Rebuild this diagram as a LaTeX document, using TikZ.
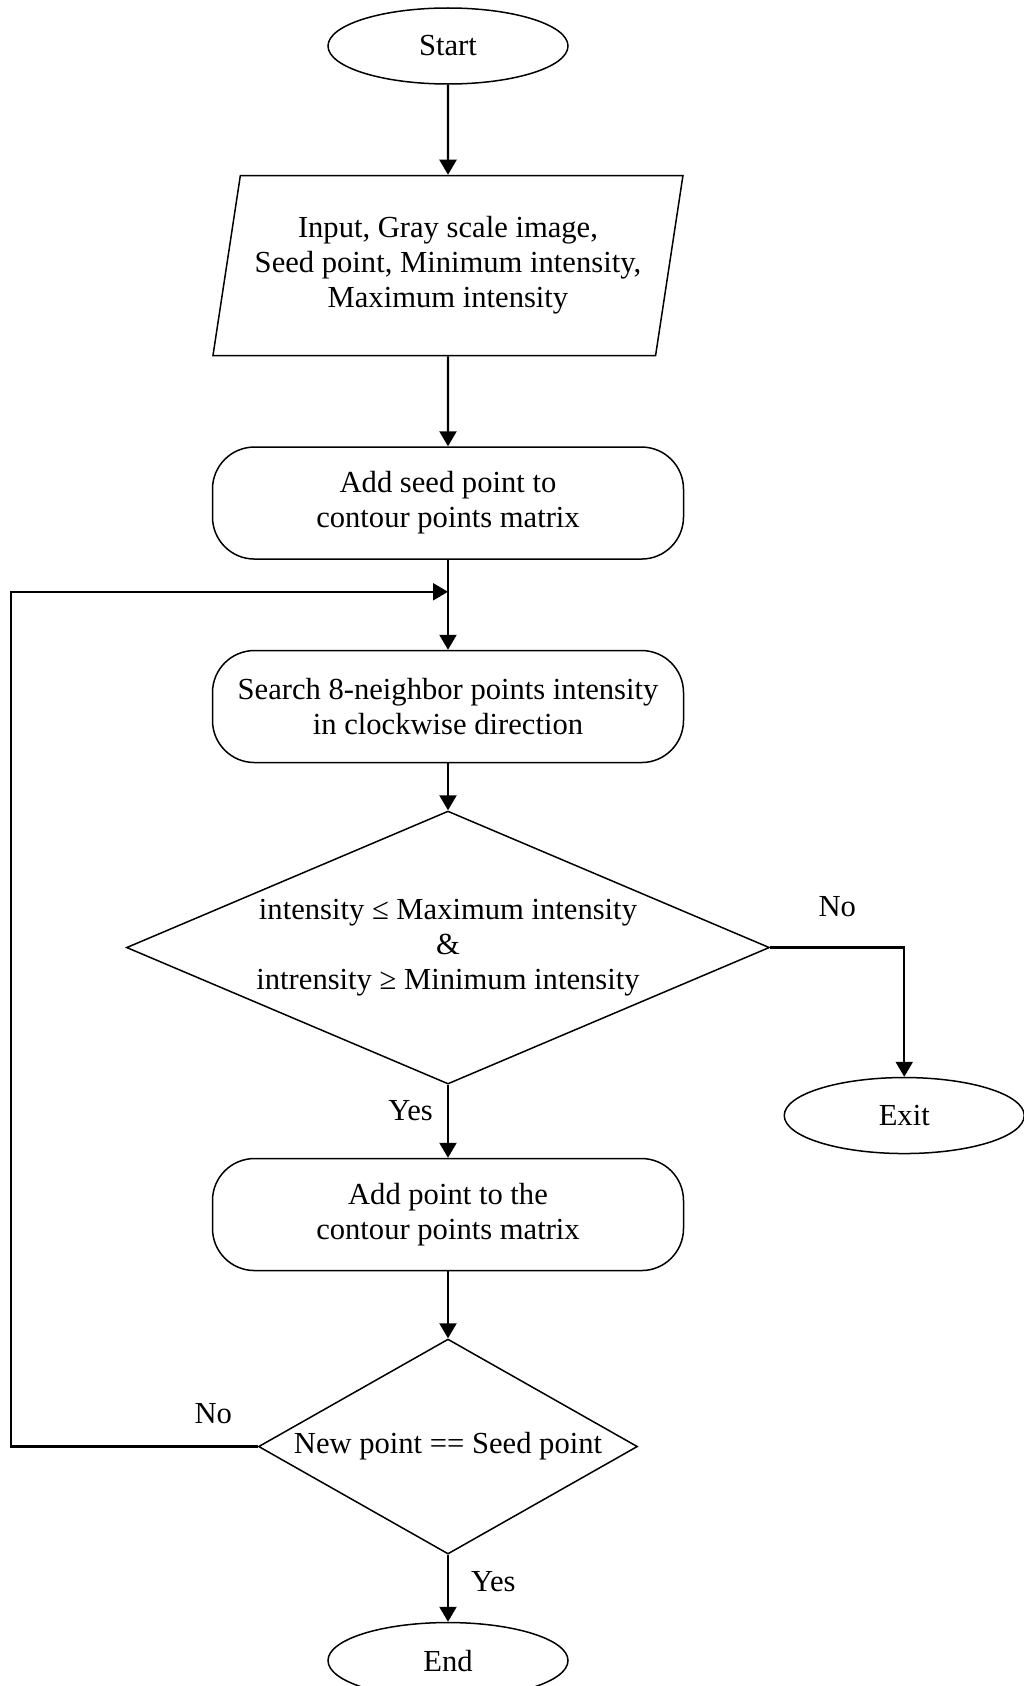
\documentclass[tikz,border=0pt]{standalone}
\usepackage{fontspec}
\setmainfont{Liberation Serif}
\usepackage{tikz}
\usetikzlibrary{arrows.meta,positioning,shapes.geometric}
\newcommand{\flowfont}{\fontsize{15.3}{17.5}\selectfont}
\tikzset{
  terminal/.style={
    ellipse,draw=black,line width=.75pt,inner sep=0pt,
    minimum width=120pt,minimum height=38pt,font=\flowfont
  },
  iobox/.style={
    trapezium,trapezium left angle=75.4,trapezium right angle=104.6,
    trapezium stretches=true,draw=black,line width=.75pt,inner sep=0pt,
    minimum width=235.5pt,minimum height=90pt,align=center,font=\flowfont
  },
  process/.style={
    rectangle,rounded corners=21pt,draw=black,line width=.75pt,
    minimum width=235.5pt,minimum height=56pt,align=center,font=\flowfont
  },
  decision/.style={
    diamond,draw=black,line width=.75pt,inner sep=0pt
  },
  txt/.style={align=center,font=\flowfont,inner sep=0pt},
  lbl/.style={font=\flowfont,inner sep=0pt},
  arrow/.style={-{Triangle[length=7.5pt,width=8.5pt]},draw=black,line width=1.1pt}
}

\begin{document}
\begin{tikzpicture}
\useasboundingbox (0,0) rectangle (511.5pt,-843pt);
% main column
\node[terminal] (start) at (224pt,-23pt) {Start};
\node[iobox,below=45pt of start] (input)
{Input, Gray scale image,\\Seed point, Minimum intensity,\\Maximum intensity};
\node[process,below=45pt of input] (seed)
{Add seed point to\\contour points matrix};
\node[process,below=45pt of seed] (search)
{Search 8-neighbor points intensity\\in clockwise direction};
\node[decision,minimum width=321.5pt,minimum height=136.5pt,
  below=23.5pt of search,
  label={[txt]center:intensity ≤ Maximum intensity\\\&\\intrensity ≥ Minimum intensity}] (check) {};
\node[process,below=36.5pt of check] (addpt)
{Add point to the\\contour points matrix};
\node[decision,minimum width=189.5pt,minimum height=107.5pt,
  below=33.5pt of addpt,
  label={[txt]center:New point == Seed point}] (same) {};
\node[terminal,below=33.5pt of same] (stop) {End};
\node[terminal] (exit) at ([shift={(67pt,-84pt)}]check.east) {Exit};
% loop points
\coordinate (merge) at ([yshift=29pt]search.north);
\coordinate (loopx) at (5.5pt,0);
% connectors
\draw[arrow] (start) -- (input);
\draw[arrow] (input) -- (seed);
\draw[arrow] (seed) -- (search);
\draw[arrow] (search) -- (check);
\draw[arrow] (check) -- node[lbl,left=7pt,pos=.35] {Yes} (addpt);
\draw[arrow] (check.east) -| node[lbl,above=15pt,pos=.25] {No} (exit);
\draw[arrow] (addpt) -- (same);
\draw[arrow] (same) -- node[lbl,right=11pt,pos=.4] {Yes} (stop);
\draw[arrow] (same.west) -- node[lbl,above=11pt,pos=.18] {No} (loopx |- same.west)
  -- (loopx |- merge) -- (merge);
\end{tikzpicture}
\end{document}
